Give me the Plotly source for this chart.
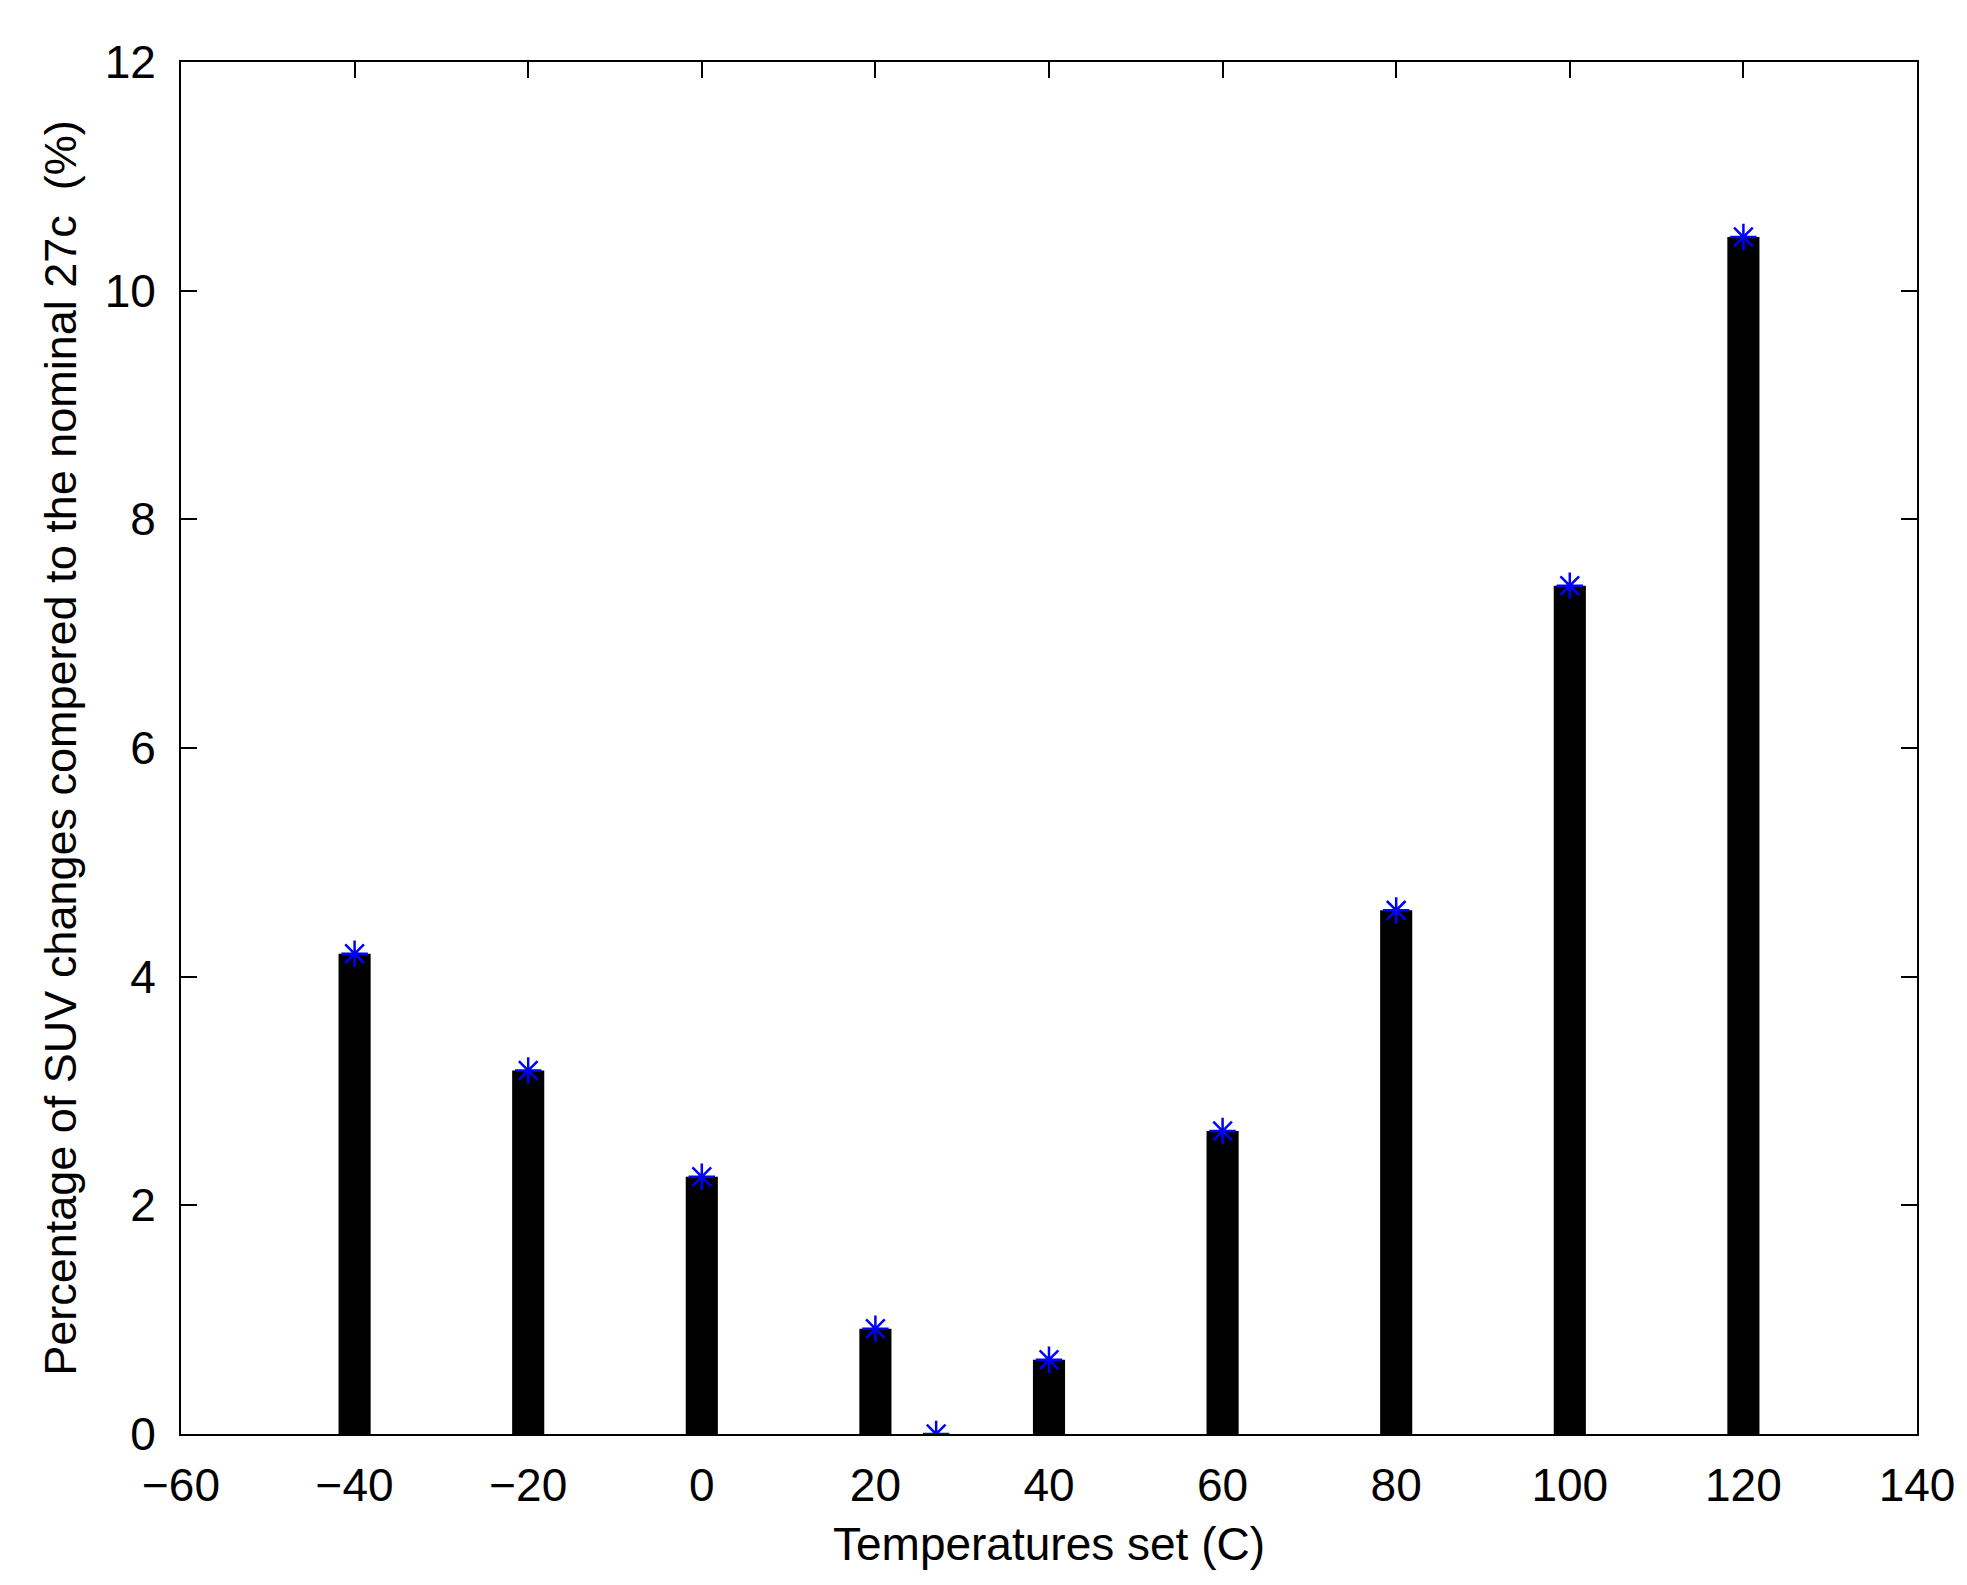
import plotly.graph_objects as go

temps = [-40, -20, 0, 20, 40, 60, 80, 100, 120]
changes = [4.2, 3.18, 2.25, 0.92, 0.65, 2.65, 4.58, 7.42, 10.47]
pt_x = [-40, -20, 0, 20, 27, 40, 60, 80, 100, 120]
pt_y = [4.2, 3.18, 2.25, 0.92, 0.0, 0.65, 2.65, 4.58, 7.42, 10.47]

fig = go.Figure()
fig.add_trace(go.Bar(x=temps, y=changes, width=3.7, marker=dict(color="black", line=dict(width=0))))
fig.add_trace(go.Scatter(x=pt_x, y=pt_y, mode="markers",
                         marker=dict(symbol="asterisk-open", size=22, color="blue", line=dict(color="blue", width=2.5))))
ax = dict(showline=True, mirror="ticks", linecolor="black", linewidth=2, ticks="inside",
          ticklen=16, tickwidth=2, tickcolor="black", showgrid=False, zeroline=False,
          tickfont=dict(family="Liberation Sans", size=46, color="black"))
fig.update_xaxes(range=[-60, 140], dtick=20, ticklabelstandoff=10,
                 title=dict(text="Temperatures set (C)", standoff=18,
                 font=dict(family="Liberation Sans", size=46, color="black")), **ax)
fig.update_yaxes(range=[0, 12], dtick=2, ticklabelstandoff=14,
                 title=dict(text="Percentage of SUV changes compered to the nominal 27c  (%)", standoff=14,
                 font=dict(family="Liberation Sans", size=45, color="black")), **ax)
fig.update_layout(width=1967, height=1585, plot_bgcolor="white", paper_bgcolor="white",
                  showlegend=False, margin=dict(l=173, r=58, t=54, b=159))
fig.write_html("out.html")
